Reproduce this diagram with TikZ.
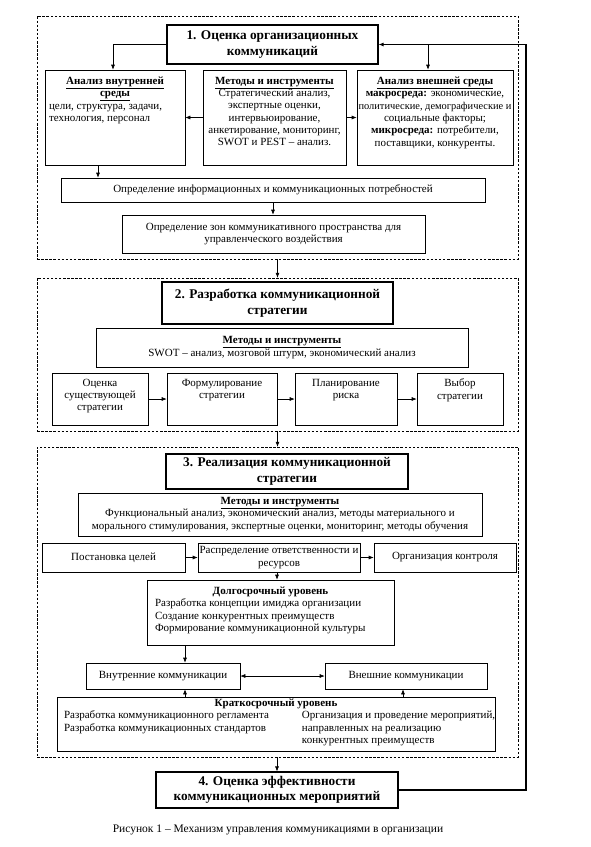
\documentclass[tikz,border=0pt]{standalone}
\usepackage{fontspec}
\setmainfont{Liberation Serif}
\usetikzlibrary{arrows.meta,calc}
\newcommand{\mytb}[3]{\parbox[c][#2][t]{#1}{#3}}
\newcommand{\bodyf}{\fontsize{11}{12.3}\selectfont}
\newcommand{\titlef}{\fontsize{13.3}{15.5}\selectfont\bfseries}
\newcommand{\hd}[1]{\textbf{\underline{#1}}}
\tikzset{
  box/.style={draw, line width=0.6pt, inner sep=0pt, align=center, font=\bodyf},
  tbox/.style={draw, line width=1.1pt, inner sep=0pt, align=center, font=\titlef},
  frm/.style={draw, dash pattern=on 2.5pt off 1.6pt, line width=0.5pt, inner sep=0pt},
  arr/.style={-{Latex[length=5pt,width=4pt]}, line width=0.6pt},
  darr/.style={{Latex[length=5pt,width=4pt]}-{Latex[length=5pt,width=4pt]}, line width=0.6pt},
  fbline/.style={-{Latex[length=5pt,width=4pt]}, line width=1.3pt}
}
\begin{document}
\begin{tikzpicture}[x=1pt,y=-1pt]
\useasboundingbox (0,0) rectangle (591,847);
% frames
\node[frm, minimum width=481pt, minimum height=243pt] (f1) at (277.5,137.5) {};
\node[frm, minimum width=481pt, minimum height=153pt] (f2) at (277.5,354.5) {};
\node[frm, minimum width=481pt, minimum height=310pt] (f3) at (277.5,602) {};
% stage 1
\node[tbox, minimum width=211pt, minimum height=39pt] (t1) at (272.5,44.5) {1. Оценка организационных\\коммуникаций};
\node[box, minimum width=140pt, minimum height=95pt] (int) at (115,117.5)
  {\mytb{132pt}{81pt}{\centering\hd{Анализ внутренней}\\\hd{среды}\par\raggedright цели, структура, задачи,\\технология, персонал}};
\node[box, minimum width=143pt, minimum height=95pt] (mid) at (274.5,117.5)
  {\mytb{143pt}{81pt}{\centering\hd{Методы и инструменты}\\Стратегический анализ,\\экспертные оценки,\\интервьюирование,\\анкетирование, мониторинг,\\SWOT и PEST – анализ.}};
\node[box, minimum width=156pt, minimum height=95pt] (ext) at (435,117.5)
  {\mytb{156pt}{81pt}{\centering\hd{Анализ внешней среды}\\\textbf{макросреда:} экономические,\\\makebox[156pt]{\fontsize{10.4}{12.3}\selectfont политические, демографические и}\\социальные факторы;\\\textbf{микросреда:} потребители,\\поставщики, конкуренты.}};
\node[box, minimum width=424pt, minimum height=24pt] (info) at (273,190) {Определение информационных и коммуникационных потребностей};
\node[box, minimum width=303pt, minimum height=38pt] (zones) at (273.5,234) {Определение зон коммуникативного пространства для\\управленческого воздействия};
% stage 2
\node[tbox, minimum width=231pt, minimum height=42pt] (t2) at (277.5,303) {2. Разработка коммуникационной\\стратегии};
\node[box, minimum width=372pt, minimum height=39pt] (m2) at (282,347.5) {\hd{Методы и инструменты}\\SWOT – анализ, мозговой штурм, экономический анализ};
\node[box, minimum width=96pt, minimum height=52pt] (sa) at (100,399) {\mytb{94pt}{40pt}{\centering Оценка\\существующей\\стратегии}};
\node[box, minimum width=110pt, minimum height=52pt] (sb) at (222,399) {\mytb{108pt}{40pt}{\centering Формулирование\\стратегии}};
\node[box, minimum width=102pt, minimum height=52pt] (sc) at (346,399) {\mytb{100pt}{40pt}{\centering Планирование\\риска}};
\node[box, minimum width=86pt, minimum height=52pt] (sd) at (460,399) {\mytb{84pt}{40pt}{\centering Выбор\\стратегии}};
% stage 3
\node[tbox, minimum width=242pt, minimum height=35pt] (t3) at (287,471.5) {3. Реализация коммуникационной\\стратегии};
\node[box, minimum width=404pt, minimum height=43pt] (m3) at (280,514.5) {\hd{Методы и инструменты}\\Функциональный анализ, экономический анализ, методы материального и\\морального стимулирования, экспертные оценки, мониторинг, методы обучения};
\node[box, minimum width=143pt, minimum height=29pt] (p1) at (113.5,557.5) {Постановка целей};
\node[box, minimum width=162pt, minimum height=29pt] (p2) at (279,557.5) {Распределение ответственности и\\ресурсов};
\node[box, minimum width=142pt, minimum height=29pt] (p3) at (445,557.5) {Организация контроля};
\node[box, minimum width=247pt, minimum height=65pt] (lt) at (270.5,612.5)
  {\mytb{231pt}{51pt}{\centering\textbf{Долгосрочный уровень}\par\raggedright Разработка концепции имиджа организации\\Создание конкурентных преимуществ\\Формирование коммуникационной культуры}};
\node[box, minimum width=154pt, minimum height=26pt] (inc) at (163,676) {Внутренние коммуникации};
\node[box, minimum width=162pt, minimum height=26pt] (exc) at (406,676) {Внешние коммуникации};
\node[box, minimum width=438pt, minimum height=54pt] (st) at (276,724)
  {\mytb{424pt}{50pt}{\centering\textbf{Краткосрочный уровень}\par\raggedright
   \parbox[t]{238pt}{\raggedright Разработка коммуникационного регламента\\Разработка коммуникационных стандартов}%
   \parbox[t]{186pt}{\raggedright\mbox{Организация и проведение мероприятий,}\\направленных на реализацию\\конкурентных преимуществ}}};
% stage 4
\node[tbox, minimum width=242pt, minimum height=36pt] (b4) at (277,790) {4. Оценка эффективности\\коммуникационных мероприятий};
\node[font=\fontsize{11.5}{13}\selectfont, inner sep=0pt] (cap) at (278,830) {Рисунок 1 – Механизм управления коммуникациями в организации};
% connectors stage 1
\coordinate (fb) at (526,790);
\coordinate (br) at (428,44.5);
\draw[fbline] (b4.east) -- (fb) |- (t1.east);
\draw[arr] (br) -- (br |- ext.north);
\draw[arr] (t1.west) -| ([xshift=-2pt]int.north);
\draw[arr] (mid.west) -- (int.east);
\draw[arr] (mid.east) -- (ext.west);
\draw[arr] ([xshift=-17pt]int.south) -- ([xshift=-17pt]int.south |- info.north);
\draw[arr] (info.south) -- (info.south |- zones.north);
\draw[arr] (f1.south) -- (f2.north);
% stage 2
\draw[arr] (sa.east) -- (sb.west);
\draw[arr] (sb.east) -- (sc.west);
\draw[arr] (sc.east) -- (sd.west);
\draw[arr] (f2.south) -- (f3.north);
% stage 3
\draw[arr] (p1.east) -- (p2.west);
\draw[arr] (p2.east) -- (p3.west);
\draw[arr] ([xshift=-2pt]p2.south) -- ([xshift=-2pt]p2.south |- lt.north);
\draw[arr] ([xshift=22pt]inc.north |- lt.south) -- ([xshift=22pt]inc.north);
\draw[darr] (inc.east) -- (exc.west);
\draw[arr] ([xshift=22pt]inc.south |- st.north) -- ([xshift=22pt]inc.south);
\draw[arr] ([xshift=-3pt]exc.south |- st.north) -- ([xshift=-3pt]exc.south);
\draw[arr] ([xshift=-0.5pt]f3.south) -- ([xshift=-0.5pt]f3.south |- b4.north);
\end{tikzpicture}
\end{document}
